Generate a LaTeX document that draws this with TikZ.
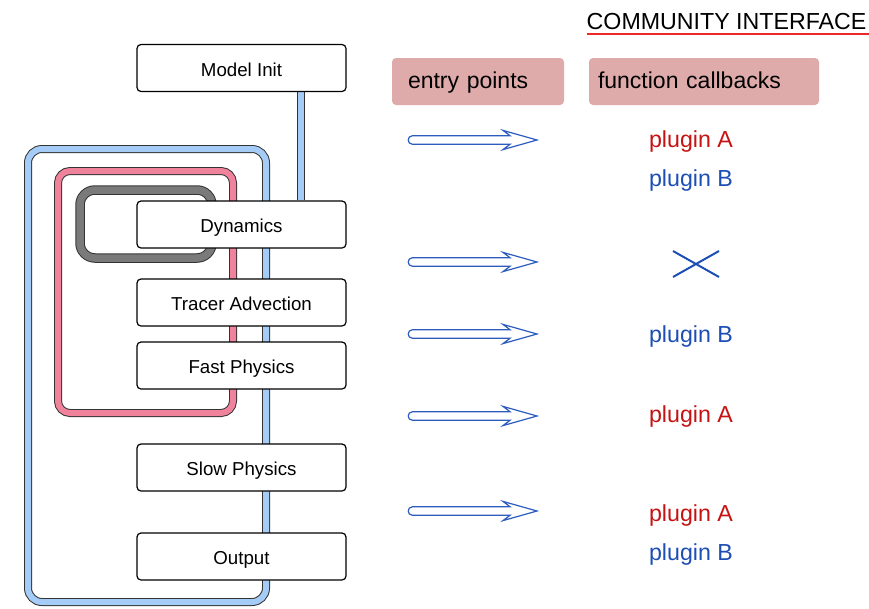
\documentclass[tikz,border=0pt]{standalone}
\usepackage{fontspec}
\setmainfont{Liberation Sans}
\usetikzlibrary{calc,backgrounds}

\definecolor{tubeblue}{RGB}{164,204,246}
\definecolor{tubepink}{RGB}{240,130,155}
\definecolor{tubegray}{RGB}{122,122,122}
\definecolor{hdrfill}{RGB}{222,170,170}
\definecolor{plugA}{RGB}{198,18,18}
\definecolor{plugB}{RGB}{28,78,180}
\definecolor{arrowblue}{RGB}{44,92,190}
\definecolor{underlinered}{RGB}{236,40,40}

\tikzset{
  tube/.style={draw=black!80, line width=1pt, double distance=6pt, rounded corners=14pt},
  bluetube/.style={tube, double=tubeblue},
  pinktube/.style={tube, double=tubepink, rounded corners=12pt},
  graytube/.style={tube, double=tubegray, double distance=7.5pt, rounded corners=15pt},
  stagebox/.style={draw=black, line width=1.2pt, fill=white, rounded corners=4pt,
    minimum width=209pt, minimum height=47pt, inner sep=0pt,
    font=\fontsize{18.7}{22}\selectfont, text height=16pt, text depth=0pt},
  hdrbox/.style={fill=hdrfill, rounded corners=4pt, minimum height=47pt,
    inner ysep=0pt, align=left, font=\fontsize{23}{27}\selectfont,
    text height=13pt, text depth=0pt},
  plugin/.style={anchor=base, inner sep=0pt, font=\fontsize{23.2}{27}\selectfont},
  hollowarrow/.pic={
    \draw[arrowblue, line width=1.2pt, fill=white, line join=miter]
      (0,-4.3) -- (97.5,-4.3) -- (90.5,-9.6) -- (124.5,0) -- (90.5,9.6)
      -- (97.5,4.3) -- (0,4.3) .. controls (-5.7,4.3) and (-5.7,-4.3) .. (0,-4.3) -- cycle;
  }
}

\begin{document}
\begin{tikzpicture}[x=1pt, y=-1pt]
  \useasboundingbox (0,0) rectangle (869,608);

  % model stages
  \node[stagebox] (init)   at (241.5,68)    {Model Init};
  \node[stagebox] (dyn)    at (241.5,224.5) {Dynamics};
  \node[stagebox] (tracer) at (241.5,302.5) {Tracer Advection};
  \node[stagebox] (fast)   at (241.5,365.5) {Fast Physics};
  \node[stagebox] (slow)   at (241.5,467.5) {Slow Physics};
  \node[stagebox] (output) at (241.5,556.5) {Output};

  % nested loops and the link from initialisation, all behind the stages
  \begin{scope}[on background layer]
    \draw[bluetube] (28,149) rectangle (266,602);
    \draw[pinktube] (58,171) rectangle (233,413);
    \draw[graytube] (80,190) rectangle (212,258);
    \coordinate (linkx) at (301,0);
    \draw[bluetube, rounded corners=0pt] (init.south -| linkx) -- (dyn.north -| linkx);
  \end{scope}

  % community interface header
  \node[anchor=base west, inner sep=0pt, font=\fontsize{23.2}{27}\selectfont]
    (title) at (586.5,29) {COMMUNITY INTERFACE};
  \draw[draw=underlinered, line width=1.8pt]
    ($(title.base west)+(0,5)$) -- ($(title.base east)+(2,5)$);

  \node[hdrbox, text width=140pt, inner xsep=16pt] (entry) at (478,81.5) {entry points};
  \node[hdrbox, text width=212pt, inner xsep=9pt]  (callb) at (704,81.5) {function callbacks};

  % entry point arrows
  \foreach \yy in {140,262,334,416,511}
    \pic at (412.5,\yy) {hollowarrow};

  % callbacks
  \node[plugin, plugA] (pa1) at (691,147) {plugin A};
  \node[plugin, plugB] (pb1) at (691,186) {plugin B};
  \coordinate (xc) at (696,264);
  \draw[plugB, line width=2pt] ($(xc)+(-23,-13)$) -- ($(xc)+(23,13)$)
                               ($(xc)+(-23,13)$) -- ($(xc)+(23,-13)$);
  \node[plugin, plugB] (pb2) at (691,342) {plugin B};
  \node[plugin, plugA] (pa2) at (691,422) {plugin A};
  \node[plugin, plugA] (pa3) at (691,521) {plugin A};
  \node[plugin, plugB] (pb3) at (691,560) {plugin B};
\end{tikzpicture}
\end{document}
